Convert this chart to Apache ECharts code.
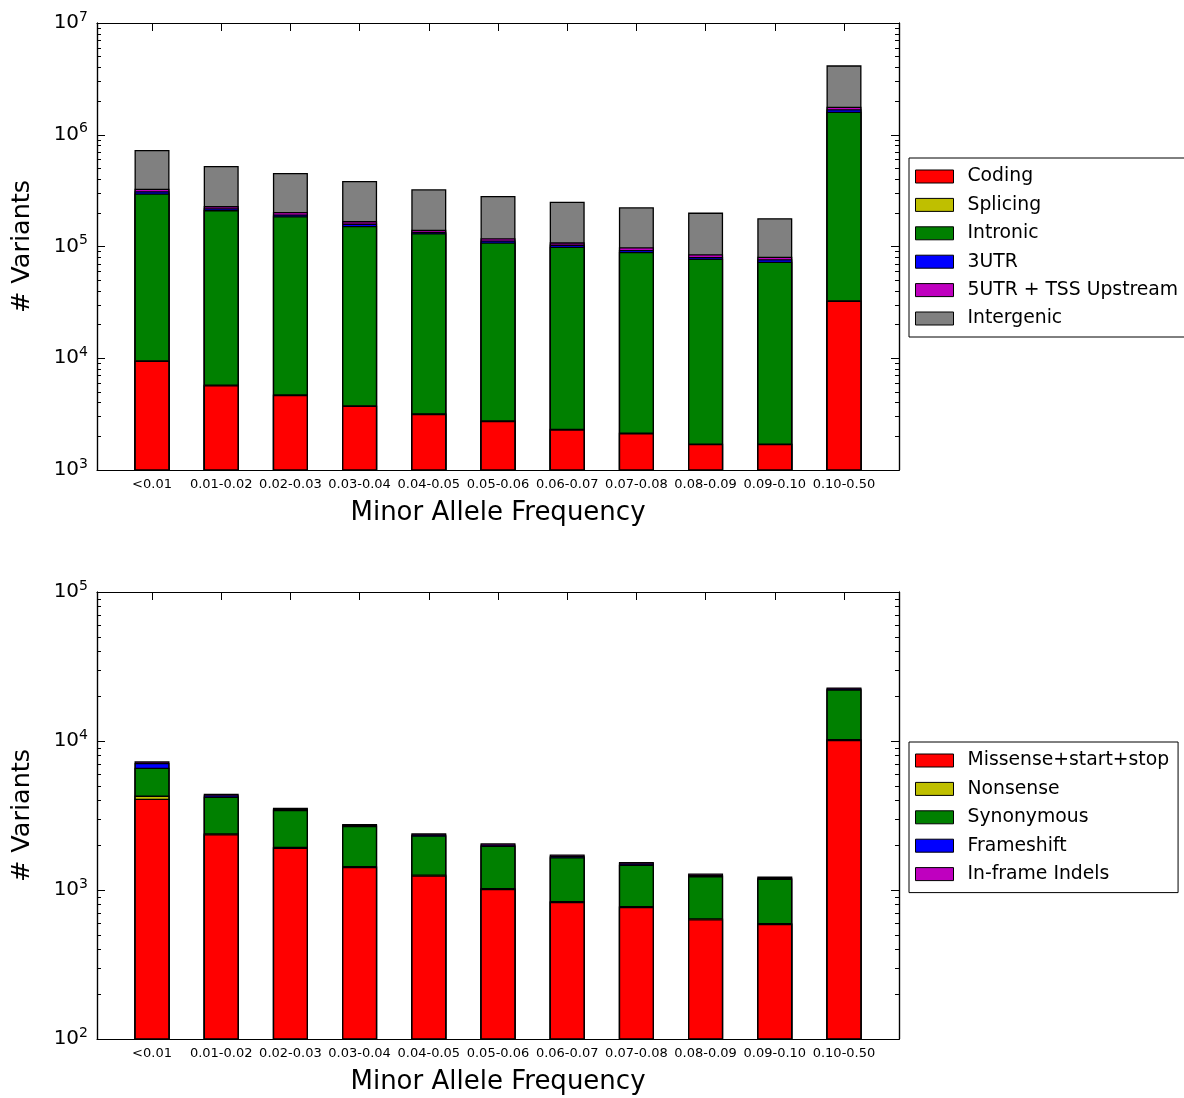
<!DOCTYPE html>
<html>
<head>
<meta charset="utf-8">
<script src="https://cdn.jsdelivr.net/npm/echarts@6/dist/echarts.min.js"></script>
<style>
  html, body { margin: 0; padding: 0; background: #ffffff; }
  #chart { width: 1184px; height: 1098px; }
</style>
</head>
<body>
<div id="chart"></div>
<script>
// Minor allele frequency bins (shared by both panels)
const categories = ['<0.01', '0.01-0.02', '0.02-0.03', '0.03-0.04', '0.04-0.05', '0.05-0.06',
                    '0.06-0.07', '0.07-0.08', '0.08-0.09', '0.09-0.10', '0.10-0.50'];

// Upper panel: all variants by annotation class (counts per class, per bin)
const regionNames = ['Coding', 'Splicing', 'Intronic', '3UTR', '5UTR + TSS Upstream', 'Intergenic'];
const coding     = [9500, 5740, 4700, 3760, 3180, 2750, 2310, 2140, 1710, 1710, 32700];
const splicing   = [110, 70, 55, 45, 38, 32, 27, 25, 20, 20, 380];
const intronic   = [289000, 206000, 182000, 149000, 128000, 106000, 97200, 87100, 76000, 71400, 1576000];
const utr3       = [14000, 8000, 7000, 7500, 4000, 4500, 4500, 3800, 3000, 3800, 80000];
const utr5Tss    = [16000, 10000, 10000, 8500, 6000, 5500, 4900, 5300, 4400, 4200, 90000];
const intergenic = [402000, 295000, 251000, 217000, 184000, 164000, 143000, 126000, 116000, 98000, 2400000];
const regionColors = ['#ff0000', '#bfbf00', '#008000', '#0000ff', '#bf00bf', '#808080'];
const regionTicks = [1e3, 1e4, 1e5, 1e6, 1e7];

// Lower panel: coding variants by consequence
const codingNames = ['Missense+start+stop', 'Nonsense', 'Synonymous', 'Frameshift', 'In-frame Indels'];
const missense   = [4100, 2370, 1925, 1430, 1252, 1015, 832, 770, 637, 592, 10150];
const nonsense   = [200, 30, 25, 20, 18, 15, 12, 11, 9, 9, 150];
const synonymous = [2320, 1830, 1490, 1240, 1050, 950, 816, 699, 594, 589, 11900];
const frameshift = [490, 100, 65, 40, 40, 40, 35, 30, 25, 20, 350];
const inframe    = [190, 100, 65, 40, 40, 40, 35, 30, 25, 20, 350];
const codingColors = ['#ff0000', '#bfbf00', '#008000', '#0000ff', '#bf00bf'];
const codingTicks = [1e2, 1e3, 1e4, 1e5];

const FONT = 'DejaVu Sans';
const binIndex = categories.map((c, i) => i);

// 2..9 x 10^k between the decade ticks
function minorValues(majors) {
  const out = [];
  for (let d = 0; d < majors.length - 1; d++) {
    for (let k = 2; k <= 9; k++) out.push(k * majors[d]);
  }
  return out;
}

function yAxesFor(gridIndex, majors) {
  const base = {
    gridIndex: gridIndex, type: 'log', logBase: 10,
    min: majors[0], max: majors[majors.length - 1],
    splitLine: { show: false },
    axisLine: { show: true, onZero: false, lineStyle: { color: '#000', width: 1.2 } }
  };
  const minors = minorValues(majors);
  return [
    Object.assign({}, base, {
      position: 'left',
      name: '# Variants', nameLocation: 'middle', nameGap: 62,
      nameTextStyle: { fontFamily: FONT, fontSize: 25.5, color: '#000' },
      axisTick: { show: true, inside: true, length: 8, customValues: majors, lineStyle: { color: '#000' } },
      axisLabel: {
        show: true, margin: 9, customValues: majors,
        formatter: v => '{b|10}{s|' + Math.round(Math.log10(v)) + '}',
        rich: {
          b: { fontFamily: FONT, fontSize: 20, color: '#000' },
          s: { fontFamily: FONT, fontSize: 14, color: '#000', padding: [0, 0, 12, 0] }
        }
      }
    }),
    Object.assign({}, base, {
      position: 'left',
      axisTick: { show: true, inside: true, length: 4, customValues: minors, lineStyle: { color: '#000' } },
      axisLabel: { show: false }
    }),
    Object.assign({}, base, {
      position: 'right',
      axisTick: { show: true, inside: true, length: 8, customValues: majors, lineStyle: { color: '#000' } },
      axisLabel: { show: false }
    }),
    Object.assign({}, base, {
      position: 'right',
      axisTick: { show: true, inside: true, length: 4, customValues: minors, lineStyle: { color: '#000' } },
      axisLabel: { show: false }
    })
  ];
}

function xAxesFor(gridIndex) {
  const base = {
    gridIndex: gridIndex, type: 'value', min: -0.795, max: 10.795,
    splitLine: { show: false },
    axisLine: { show: true, onZero: false, lineStyle: { color: '#000', width: 1.2 } },
    axisTick: { show: true, inside: true, length: 8, customValues: binIndex, lineStyle: { color: '#000' } }
  };
  return [
    Object.assign({}, base, {
      position: 'bottom',
      name: 'Minor Allele Frequency', nameLocation: 'middle', nameGap: 30,
      nameTextStyle: { fontFamily: FONT, fontSize: 26, color: '#000' },
      axisLabel: {
        show: true, customValues: binIndex, margin: 8,
        fontFamily: FONT, fontSize: 13, color: '#000',
        formatter: v => categories[Math.round(v)]
      }
    }),
    Object.assign({}, base, { position: 'top', axisLabel: { show: false } })
  ];
}

// Stacked segments: each series is drawn up to its cumulative total; later
// (lower) segments are painted over the taller ones beneath them.
function stackedSeries(names, values, colors, xIdx, yIdx) {
  const cum = [];
  let running = categories.map(() => 0);
  values.forEach(vals => {
    running = running.map((r, i) => r + vals[i]);
    cum.push(running.slice());
  });
  const list = [];
  for (let s = names.length - 1; s >= 0; s--) {
    list.push({
      name: names[s], type: 'bar',
      xAxisIndex: xIdx, yAxisIndex: yIdx,
      barWidth: 35, barGap: '-100%',
      itemStyle: { color: colors[s], borderColor: '#000', borderWidth: 1.3 },
      emphasis: { disabled: true },
      data: cum[s].map((v, i) => [i, v])
    });
  }
  return list;
}

function legendFor(names, top) {
  return {
    orient: 'vertical', left: 909, top: top,
    data: names, icon: 'rect',
    itemWidth: 38, itemHeight: 13, itemGap: 9.4,
    padding: [9, 9, 9, 6],
    borderColor: '#000', borderWidth: 1,
    selectedMode: false,
    itemStyle: { borderWidth: 1 },
    textStyle: { fontFamily: FONT, fontSize: 18.8, lineHeight: 18, color: '#000', padding: [0, 0, 0, 9] }
  };
}

const chart = echarts.init(document.getElementById('chart'), null, { renderer: 'canvas' });
chart.setOption({
  animation: false,
  backgroundColor: '#ffffff',
  textStyle: { fontFamily: FONT },
  grid: [
    { left: 97, top: 23, width: 802, height: 447 },
    { left: 97, top: 592, width: 802, height: 447 }
  ],
  xAxis: xAxesFor(0).concat(xAxesFor(1)),
  yAxis: yAxesFor(0, regionTicks).concat(yAxesFor(1, codingTicks)),
  legend: [legendFor(regionNames, 158), legendFor(codingNames, 742)],
  series: stackedSeries(regionNames, [coding, splicing, intronic, utr3, utr5Tss, intergenic], regionColors, 0, 0)
    .concat(stackedSeries(codingNames, [missense, nonsense, synonymous, frameshift, inframe], codingColors, 2, 4))
});
</script>
</body>
</html>
